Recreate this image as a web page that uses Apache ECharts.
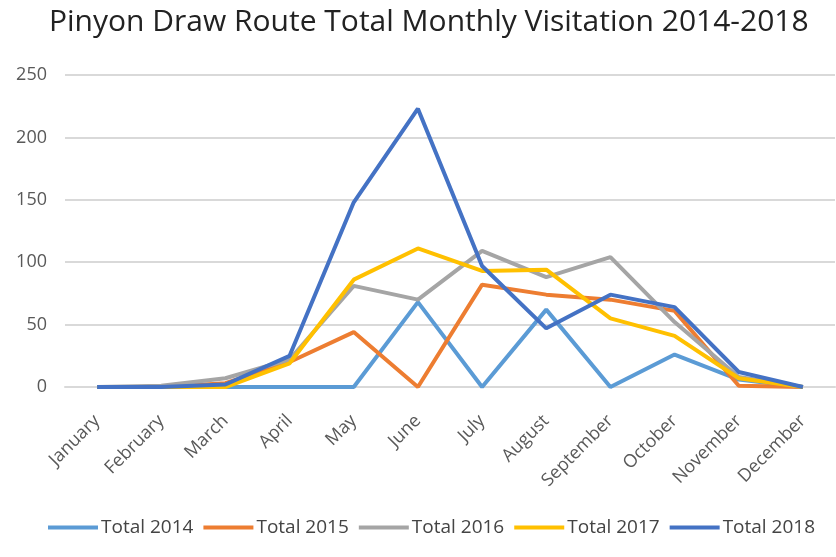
<!DOCTYPE html>
<html><head><meta charset="utf-8">
<script src="https://cdn.jsdelivr.net/npm/echarts@6/dist/echarts.min.js"></script>
<style>html,body{margin:0;padding:0;background:#fff}#c{width:836px;height:557px}</style>
</head><body><div id="c"></div>
<script>
const months = ["January","February","March","April","May","June","July","August","September","October","November","December"];
const total2014 = [0,0,0,0,0,68,0,62,0,26,6,0];
const total2015 = [0,0,3,20,44,0,82,74,70,61,1,0];
const total2016 = [0,1,7,22,81,70,109,88,104,52,8,0];
const total2017 = [0,0,0,19,86,111,93,94,55,41,7,0];
const total2018 = [0,0,2,25,148,223,97,47,74,64,12,0];
const seriesNames = ["Total 2014","Total 2015","Total 2016","Total 2017","Total 2018"];
const colors = ["#5B9BD5","#ED7D31","#A5A5A5","#FFC000","#4472C4"];
const data = [total2014,total2015,total2016,total2017,total2018];

const chart = echarts.init(document.getElementById('c'));
chart.setOption({
  animation:false,
  title:{text:"Pinyon Draw Route Total Monthly Visitation 2014-2018",left:44,top:2,
    textStyle:{fontFamily:"Open Sans",fontSize:30,fontWeight:'normal',color:'#222'}},
  grid:{left:65,right:1,top:75,bottom:170},
  legend:{left:48,bottom:20,padding:0,itemWidth:50,itemHeight:4,itemGap:10,icon:'rect',
    textStyle:{fontFamily:"Open Sans",fontSize:19,color:'#444',padding:[0,0,0,-2]},
    data:seriesNames},
  xAxis:{type:'category',data:months,boundaryGap:true,
    axisLine:{show:true,lineStyle:{color:'#d9d9d9',width:2}},axisTick:{show:false},
    axisLabel:{rotate:45,interval:0,fontFamily:"Open Sans",fontSize:18,color:'#595959',margin:31}},
  yAxis:{type:'value',min:0,max:250,interval:50,
    axisLine:{show:false},axisTick:{show:false},
    splitLine:{lineStyle:{color:'#d9d9d9',width:2}},
    axisLabel:{fontFamily:"Open Sans",fontSize:18,color:'#595959',margin:18}},
  series:data.map((d,i)=>({name:seriesNames[i],type:'line',data:d,symbol:'none',
    lineStyle:{width:4,color:colors[i]},itemStyle:{color:colors[i]},z:2+i}))
});
</script></body></html>
